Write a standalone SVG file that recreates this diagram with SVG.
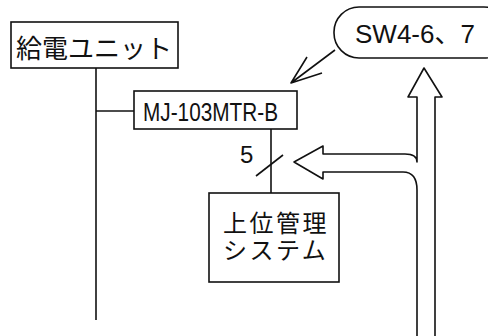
<svg xmlns="http://www.w3.org/2000/svg" width="488" height="336" viewBox="0 0 488 336">
<style>
.box{fill:#fff;stroke:#111;stroke-width:1.6}
.ln{fill:none;stroke:#111;stroke-width:1.6;stroke-linejoin:round}
.t{font-family:"Liberation Sans","Noto Sans CJK JP",sans-serif;fill:#111}
.j{font-family:"Noto Sans CJK JP",sans-serif;fill:#111}
</style>
<rect width="488" height="336" fill="#fff"/>
<g id="connectors">
<path class="ln" d="M96,68 V320"/>
<path class="ln" d="M96,111 H134"/>
<path class="ln" d="M271,129 V193"/>
<path class="ln" d="M256,176 L283,155"/>
<path class="ln" d="M335,50 L291,83 M307,57 L291,83 L322,73"/>
</g>
<g id="hollow-arrow">
<path class="ln" d="M417,336 V190 Q417,172 403,172 H323 V179 L294,162 L323,146 V154 H405 Q417,154 417,162 V97 H408 L424,68 L442,97 H435 V336"/>
</g>
<g id="node-kyuden">
<rect class="box" x="11" y="22" width="167" height="46"/>
<text class="j" x="16" y="58" font-size="26">給電ユニット</text>
</g>
<g id="node-mj">
<rect class="box" x="134" y="91" width="163" height="38"/>
<text class="t" x="143" y="121" font-size="25" textLength="135" lengthAdjust="spacingAndGlyphs">MJ-103MTR-B</text>
</g>
<g id="label-5">
<text class="t" x="240" y="163" font-size="24">5</text>
</g>
<g id="node-joui">
<rect class="box" x="209" y="193" width="130" height="89"/>
<text class="t" x="223" y="232" font-size="24" letter-spacing="2.5">上位管理</text>
<text class="t" x="223" y="259" font-size="24" letter-spacing="2.5">システム</text>
</g>
<g id="node-sw">
<rect class="box" x="334" y="7" width="175" height="51" rx="25" ry="25"/>
<text class="t" x="355" y="43" font-size="26">SW4-6、7</text>
</g>
</svg>
